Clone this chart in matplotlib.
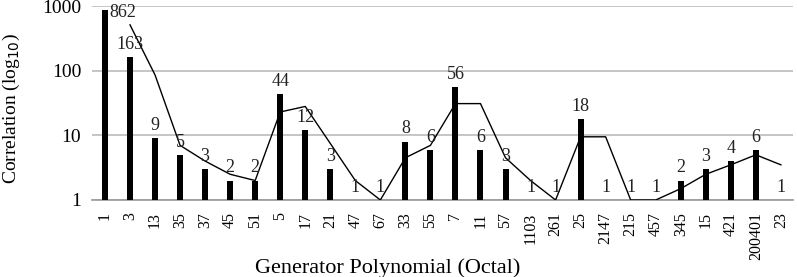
import numpy as np
import matplotlib.pyplot as plt
from matplotlib.ticker import FixedLocator, NullLocator

plt.rcParams['font.family'] = ['Liberation Serif', 'DejaVu Serif']

polys = ['1', '3', '13', '35', '37', '45', '51', '5', '17', '21', '47', '67', '33', '55',
         '7', '11', '57', '1103', '261', '25', '2147', '215', '457', '345', '15', '421',
         '200401', '23']
corr = [862, 163, 9, 5, 3, 2, 2, 44, 12, 3, 1, 1, 8, 6,
        56, 6, 3, 1, 1, 18, 1, 1, 1, 2, 3, 4, 6, 1]
# 2-period moving average trendline (starts at second category)
trend = [512.5, 86, 7, 4, 2.5, 2, 23, 28, 7.5, 2, 1, 4.5, 7, 31,
         31, 4.5, 2, 1, 9.5, 9.5, 1, 1, 1.5, 2.5, 3.5, 5, 3.5]

x = np.arange(len(polys))

fig = plt.figure(figsize=(7.97, 2.77), dpi=100)
ax = fig.add_axes([0.116, 0.278, 0.8795, 0.700])

ax.bar(x, corr, width=0.24, color='black', zorder=3)
ax.plot(x[1:], trend, color='black', lw=1.0, zorder=4)

for i, v in enumerate(corr):
    if i == 0:
        ax.annotate(str(v), (i, v), xytext=(3, -8), textcoords='offset points',
                    ha='left', va='bottom', fontsize=13, color='#222222', zorder=5)
    else:
        ax.annotate(str(v), (i, v), xytext=(0, 3), textcoords='offset points',
                    ha='center', va='bottom', fontsize=13, color='#222222', zorder=5)

ax.set_yscale('log')
ax.set_ylim(1, 1000)
ax.set_xlim(-0.5, len(polys) - 0.5)
ax.yaxis.set_major_locator(FixedLocator([1, 10, 100, 1000]))
ax.yaxis.set_minor_locator(NullLocator())
ax.set_yticklabels(['1', '10', '100', '1000'], fontsize=14)
ax.set_xticks(x)
ax.set_xticklabels(polys, rotation=90, fontsize=11.5)
ax.tick_params(axis='both', length=0)
ax.tick_params(axis='y', pad=8)
ax.tick_params(axis='x', pad=9)
ax.grid(axis='y', color='#bbbbbb', lw=1.2, zorder=0)
for s in ['top', 'right', 'left']:
    ax.spines[s].set_visible(False)
ax.spines['bottom'].set_color('#999999')
ax.spines['bottom'].set_linewidth(1.2)

ax.set_ylabel('Correlation (log$_{10}$)', fontsize=14)
ax.yaxis.set_label_coords(-0.1, 0.47)
fig.text(0.487, 0.033, 'Generator Polynomial (Octal)', ha='center', va='center', fontsize=16)

fig.savefig('out.png', dpi=100)
